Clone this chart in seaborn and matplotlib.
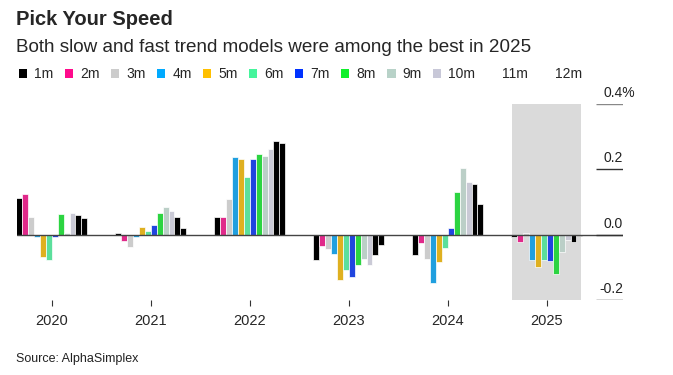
import pandas as pd
import numpy as np
import matplotlib.pyplot as plt
import seaborn as sns
from matplotlib.patches import Patch

sns.set_style("white")
plt.rcParams['font.family'] = ['Liberation Sans', 'DejaVu Sans']

# Data (monthly return, %)
years = ['2020', '2021', '2022', '2023', '2024', '2025']
models = ['1m', '2m', '3m', '4m', '5m', '6m', '7m', '8m', '9m', '10m', '11m', '12m']

v2020 = [0.112, 0.125, 0.055, -0.008, -0.069, -0.077, -0.008, 0.064, 0.005, 0.066, 0.060, 0.052]
v2021 = [0.006, -0.019, -0.038, -0.006, 0.022, 0.011, 0.030, 0.065, 0.084, 0.072, 0.055, 0.020]
v2022 = [0.053, 0.055, 0.109, 0.237, 0.233, 0.176, 0.231, 0.248, 0.240, 0.263, 0.288, 0.280]
v2023 = [-0.077, -0.036, -0.043, -0.058, -0.138, -0.107, -0.130, -0.093, -0.074, -0.092, -0.063, -0.031]
v2024 = [-0.062, -0.024, -0.073, -0.149, -0.084, -0.042, 0.019, 0.132, 0.203, 0.160, 0.154, 0.094]
v2025 = [-0.007, -0.022, 0.005, -0.078, -0.098, -0.077, -0.081, -0.120, -0.052, -0.017, -0.023, -0.005]

colors = ['#000000', '#ff0a8c', '#cccccc', '#00aaff', '#ffc000', '#45f59c',
          '#0032ff', '#10f02c', '#b8d2c8', '#c8c8d8', '#000000', '#000000']
legend_colors = colors[:10] + ['none', 'none']

yticks = [-0.2, 0.0, 0.2, 0.4]
ytick_labels = ['-0.2', '0.0', '0.2', '0.4%']

rows = []
for yr, vals in zip(years, [v2020, v2021, v2022, v2023, v2024, v2025]):
    for m, v in zip(models, vals):
        rows.append({'year': yr, 'model': m, 'value': v})
df = pd.DataFrame(rows)

fig = plt.figure(figsize=(6.73, 3.75), dpi=100)
ax = fig.add_axes([0.0253, 0.2, 0.9004, 0.5227])

# highlight current year
ax.axvspan(4.65, 5.35, color='#dadada', zorder=0, lw=0)

sns.barplot(data=df, x='year', y='value', hue='model', order=years,
            hue_order=models, palette=colors, width=0.72, edgecolor='white',
            linewidth=0.5, legend=False, ax=ax, zorder=2)

ax.set_xlim(-0.35, 5.77)
ax.set_ylim(-0.2, 0.4)
ax.axhline(0, color='#444444', lw=1, zorder=3)

for s in ax.spines.values():
    s.set_visible(False)
ax.set_xlabel('')
ax.set_ylabel('')
ax.set_yticks([])
ax.tick_params(axis='x', length=4, width=0.8, color='#333333', pad=6,
               labelsize=10.5, bottom=True)

# right-hand axis labels sitting on short lines
for t, lab in zip(yticks, ytick_labels):
    ax.hlines(t, 5.5, 5.77, color='#888888' if t == 0.4 else '#333333', lw=1, zorder=3)
    shift = 9 if lab.endswith('%') else 0
    ax.annotate(lab, (5.77, t + 0.012), xytext=(shift, 0), textcoords='offset points',
                ha='right', va='bottom', fontsize=10, color='#222222',
                annotation_clip=False)

fig.text(0.0238, 0.948, 'Pick Your Speed', fontsize=14.5, fontweight='bold', va='center')
fig.text(0.0238, 0.873, 'Both slow and fast trend models were among the best in 2025',
         fontsize=13.6, va='center')
fig.text(0.0238, 0.043, 'Source: AlphaSimplex', fontsize=9, va='center', color='#222222')

handles = [Patch(facecolor=c, edgecolor='none') for c in legend_colors]
fig.legend(handles, models, loc='center left', bbox_to_anchor=(0.028, 0.802),
           ncol=12, frameon=False, fontsize=10, handlelength=0.6, handleheight=0.6,
           handletextpad=0.5, columnspacing=0.82, borderpad=0, borderaxespad=0)

plt.savefig('out.png', dpi=100)
plt.close()
